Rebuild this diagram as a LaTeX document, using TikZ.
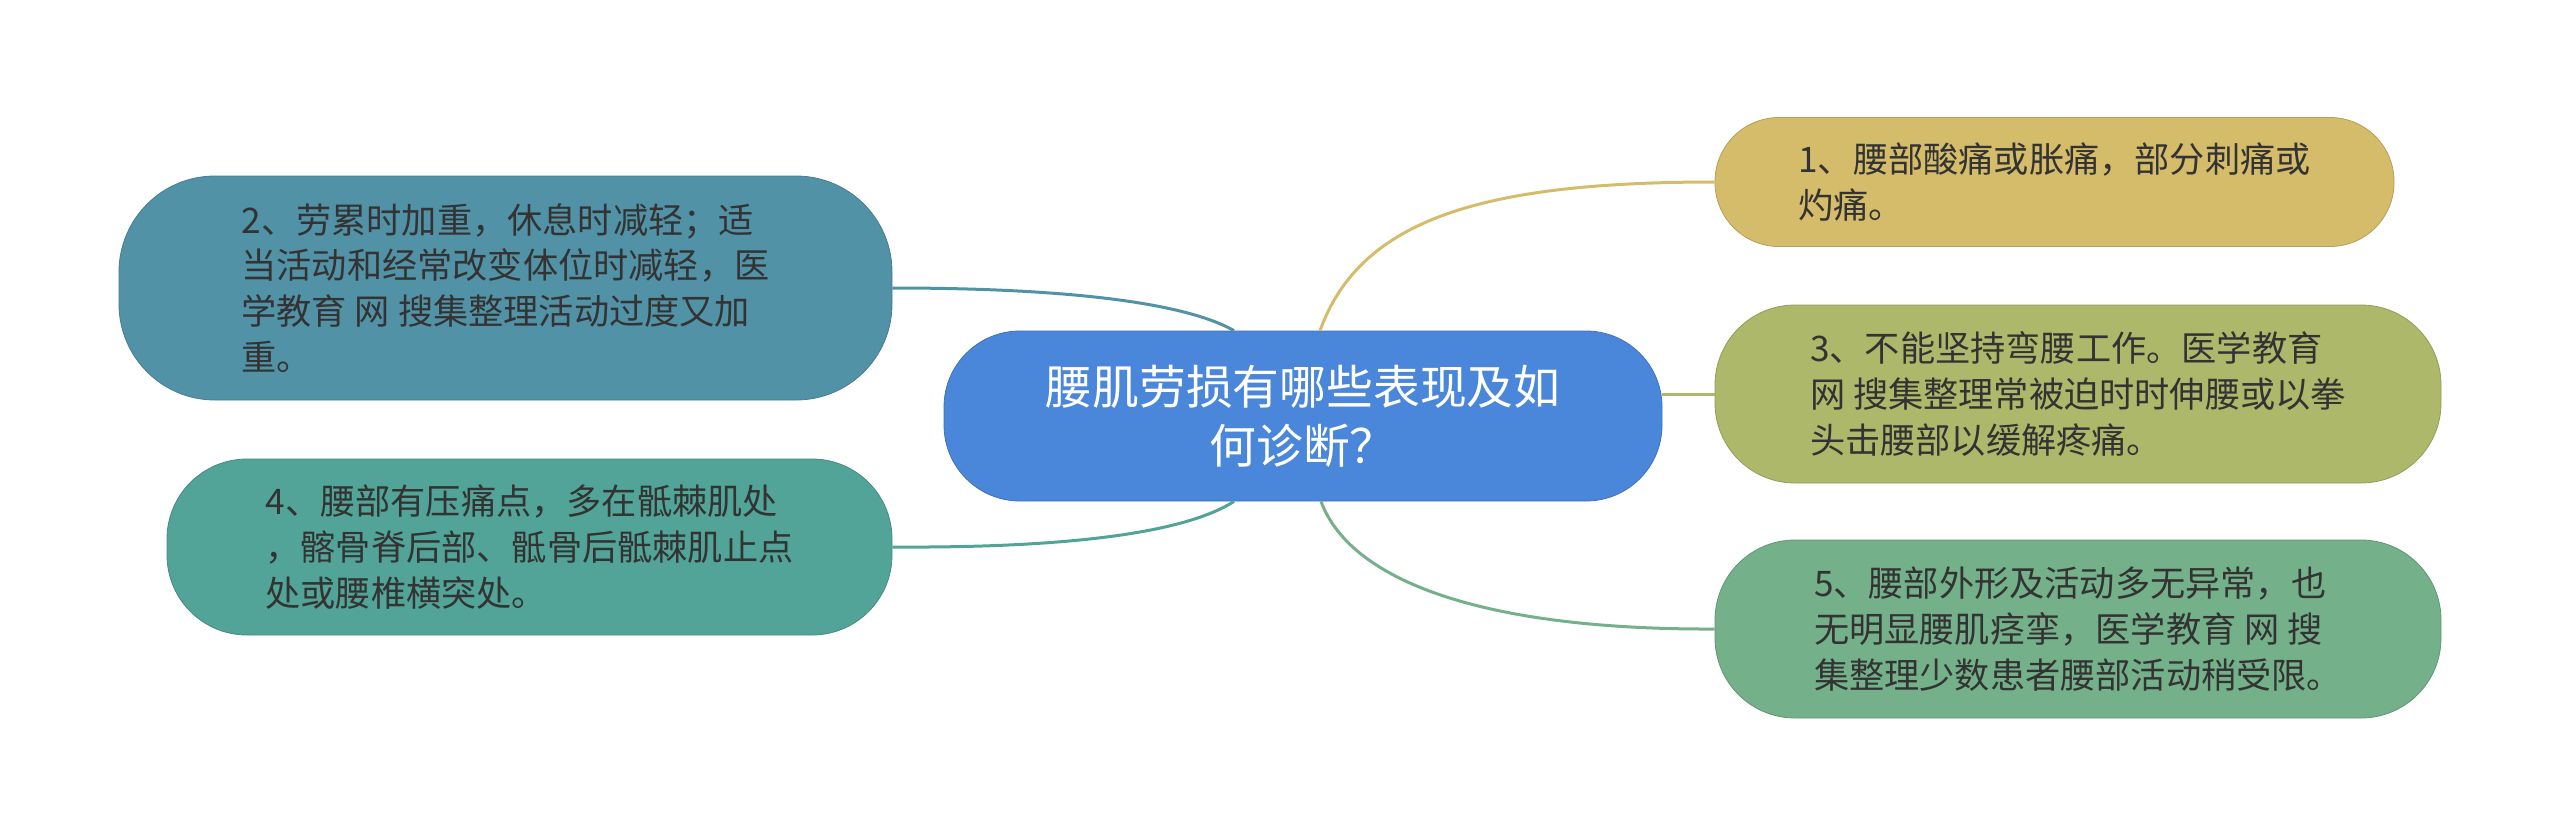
\documentclass[tikz,border=0pt]{standalone}
\usepackage{fontspec}
\setmainfont{Noto Sans CJK SC}
\definecolor{rootblue}{HTML}{4A86D9}
\definecolor{sand}{HTML}{D4BC6A}
\definecolor{olive}{HTML}{AEB86A}
\definecolor{sage}{HTML}{74B08A}
\definecolor{petrol}{HTML}{5292A6}
\definecolor{teal}{HTML}{52A398}
\definecolor{textgray}{HTML}{333333}

\begin{document}
\begin{tikzpicture}[
        x=0.5pt, y=0.5pt,
        root/.style={rectangle, fill=rootblue, draw=rootblue!85!black, line width=0.4pt, rounded corners=38pt, text=white, align=center, font=\fontsize{23.4}{29.4}\selectfont, minimum width=359pt, minimum height=85pt, inner sep=0pt},
        leaf/.style={rectangle, fill=#1, draw=#1!85!black, line width=0.4pt, rounded corners=32pt, text=textgray, align=left, font=\fontsize{17.6}{22.9}\selectfont, inner sep=0pt},
        link/.style={line width=1.5pt}
    ]
    \useasboundingbox (0,0) rectangle (2560,-836);

    \node[root] (root) at (1303,-416) {腰肌劳损有哪些表现及如\\何诊断？};

    \node[leaf=sand, minimum width=339.5pt, minimum height=64.5pt] (pain) at (2054.5,-182) {1、腰部酸痛或胀痛，部分刺痛或\\灼痛。};
    \node[leaf=petrol, minimum width=386.5pt, minimum height=112pt, rounded corners=48pt] (fatigue) at (505.5,-288) {2、劳累时加重，休息时减轻；适\\当活动和经常改变体位时减轻，医\\学教育 网 搜集整理活动过度又加\\重。};
    \node[leaf=olive, minimum width=363pt, minimum height=89pt, rounded corners=40pt] (bend) at (2078,-394) {3、不能坚持弯腰工作。医学教育\\网 搜集整理常被迫时时伸腰或以拳\\头击腰部以缓解疼痛。};
    \node[leaf=teal, minimum width=362.5pt, minimum height=88pt, rounded corners=40pt] (tender) at (529.5,-547) {4、腰部有压痛点，多在骶棘肌处\\，髂骨脊后部、骶骨后骶棘肌止点\\处或腰椎横突处。};
    \node[leaf=sage, minimum width=363pt, minimum height=89pt, rounded corners=40pt] (shape) at (2078,-629) {5、腰部外形及活动多无异常，也\\无明显腰肌痉挛，医学教育 网 搜\\集整理少数患者腰部活动稍受限。};

    \draw[link, sand] ([xshift=8.5pt]root.north) .. controls (1360,-220) and (1480,-182) .. (pain.west);
    \draw[link, petrol] ([xshift=-34.5pt]root.north) .. controls (1180,-300) and (1050,-288) .. (fatigue.east);
    \draw[link, olive] (root.east |- bend.west) -- (bend.west);
    \draw[link, teal] ([xshift=-34.5pt]root.south) .. controls (1180,-536) and (1050,-548) .. (tender.east);
    \draw[link, sage] ([xshift=9pt]root.south) .. controls (1350,-580) and (1480,-630) .. (shape.west);
\end{tikzpicture}
\end{document}
